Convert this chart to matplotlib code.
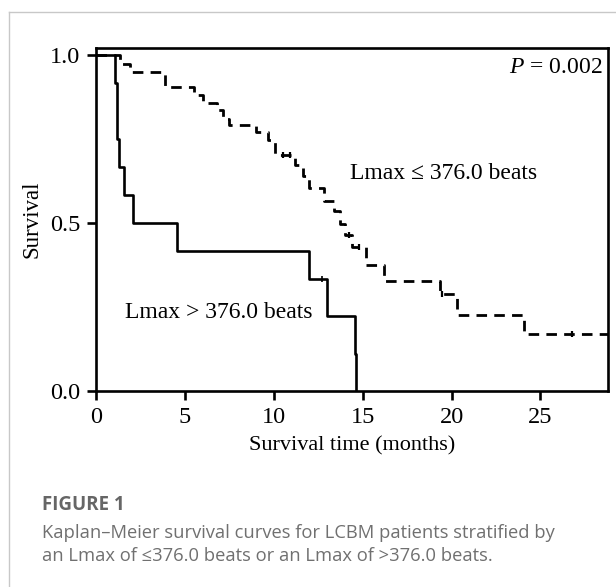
#!/usr/bin/env python
# Kaplan-Meier curves, Lmax <= 376.0 vs > 376.0 beats

import matplotlib
matplotlib.use("Agg")
import matplotlib.pyplot as plt
from matplotlib.lines import Line2D

# Lmax <= 376.0 beats (dashed)
low_times = [0, 1.35, 1.9, 3.9, 5.5, 6.0, 6.8, 7.15, 7.5, 9.0, 9.7, 10.07, 11.2,
             11.65, 12.0, 12.8, 13.4, 13.7, 14.0, 14.4, 15.2, 16.2, 19.35, 20.3, 24.1, 28.8]
low_surv = [1.0, 0.972, 0.95, 0.903, 0.88, 0.857, 0.837, 0.81, 0.79, 0.77, 0.745, 0.703, 0.672,
            0.64, 0.605, 0.565, 0.536, 0.498, 0.464, 0.427, 0.376, 0.328, 0.289, 0.225, 0.17, 0.17]
low_cens_t = [10.5, 10.9, 14.25, 14.8, 19.45, 26.8]
low_cens_s = [0.703, 0.703, 0.464, 0.427, 0.289, 0.17]

# Lmax > 376.0 beats (solid)
high_times = [0, 1.07, 1.16, 1.31, 1.57, 2.1, 4.54, 11.98, 12.97, 14.57, 14.62]
high_surv = [1.0, 0.917, 0.75, 0.667, 0.583, 0.5, 0.417, 0.333, 0.222, 0.111, 0.0]
high_cens_t = [12.7]
high_cens_s = [0.333]

xticks = [0, 5, 10, 15, 20, 25]
yticks = [0.0, 0.5, 1.0]
ytick_labels = ["0.0", "0.5", "1.0"]

serif = "Liberation Serif"
plt.rcParams["mathtext.fontset"] = "custom"
plt.rcParams["mathtext.it"] = serif + ":italic"
plt.rcParams["mathtext.rm"] = serif

fig = plt.figure(figsize=(6.16, 5.87), dpi=100)

# light grey frame of the figure panel
fig.add_artist(Line2D([9 / 616, 1.0], [1 - 12 / 587, 1 - 12 / 587], color="#c8c8c8", lw=1.0))
fig.add_artist(Line2D([9 / 616, 9 / 616], [0.0, 1 - 12 / 587], color="#c8c8c8", lw=1.0))

ax = fig.add_axes([96 / 616, 1 - 391 / 587, (608 - 96) / 616, (391 - 48) / 587])

ax.step(low_times, low_surv, where="post", color="black", lw=2.0,
        linestyle=(0, (3.8, 2.6)), dash_capstyle="butt")
ax.plot(low_cens_t, low_cens_s, linestyle="none", marker="|", color="black", ms=5, mew=1.6)

ax.step(high_times, high_surv, where="post", color="black", lw=1.9)
ax.plot(high_cens_t, high_cens_s, linestyle="none", marker="|", color="black", ms=5, mew=1.2)

ax.set_xlim(0, 28.8)
ax.set_ylim(0, 1.02)
ax.set_xticks(xticks)
ax.set_yticks(yticks)
ax.set_yticklabels(ytick_labels)

for s in ax.spines.values():
    s.set_linewidth(1.9)
ax.tick_params(direction="out", length=6.5, width=1.9, labelsize=17.5, pad=5)
for lab in ax.get_xticklabels() + ax.get_yticklabels():
    lab.set_fontfamily(serif)

ax.set_xlabel("Survival time (months)", fontsize=16, fontfamily=serif, labelpad=6)
ax.set_ylabel("Survival", fontsize=16.5, fontfamily=serif, labelpad=5)

ax.text(28.5, 0.963, "$P$ = 0.002", ha="right", va="center", fontsize=17,
        fontfamily=serif)
ax.text(14.3, 0.648, "Lmax \u2264 376.0 beats", ha="left", va="center", fontsize=17,
        fontfamily=serif)
ax.text(1.63, 0.232, "Lmax > 376.0 beats", ha="left", va="center", fontsize=17,
        fontfamily=serif)

# caption
fig.text(42 / 616, 1 - 505 / 587, "FIGURE 1", fontsize=13.5, fontweight="bold",
         color="#666666", fontfamily="Open Sans", va="center")
fig.text(42 / 616, 1 - 533 / 587,
         "Kaplan\u2013Meier survival curves for LCBM patients stratified by",
         fontsize=13.2, color="#707070", fontfamily="Open Sans", va="center")
fig.text(42 / 616, 1 - 556 / 587,
         "an Lmax of \u2264376.0 beats or an Lmax of >376.0 beats.",
         fontsize=13.2, color="#707070", fontfamily="Open Sans", va="center")

fig.savefig("out.png", dpi=100)
